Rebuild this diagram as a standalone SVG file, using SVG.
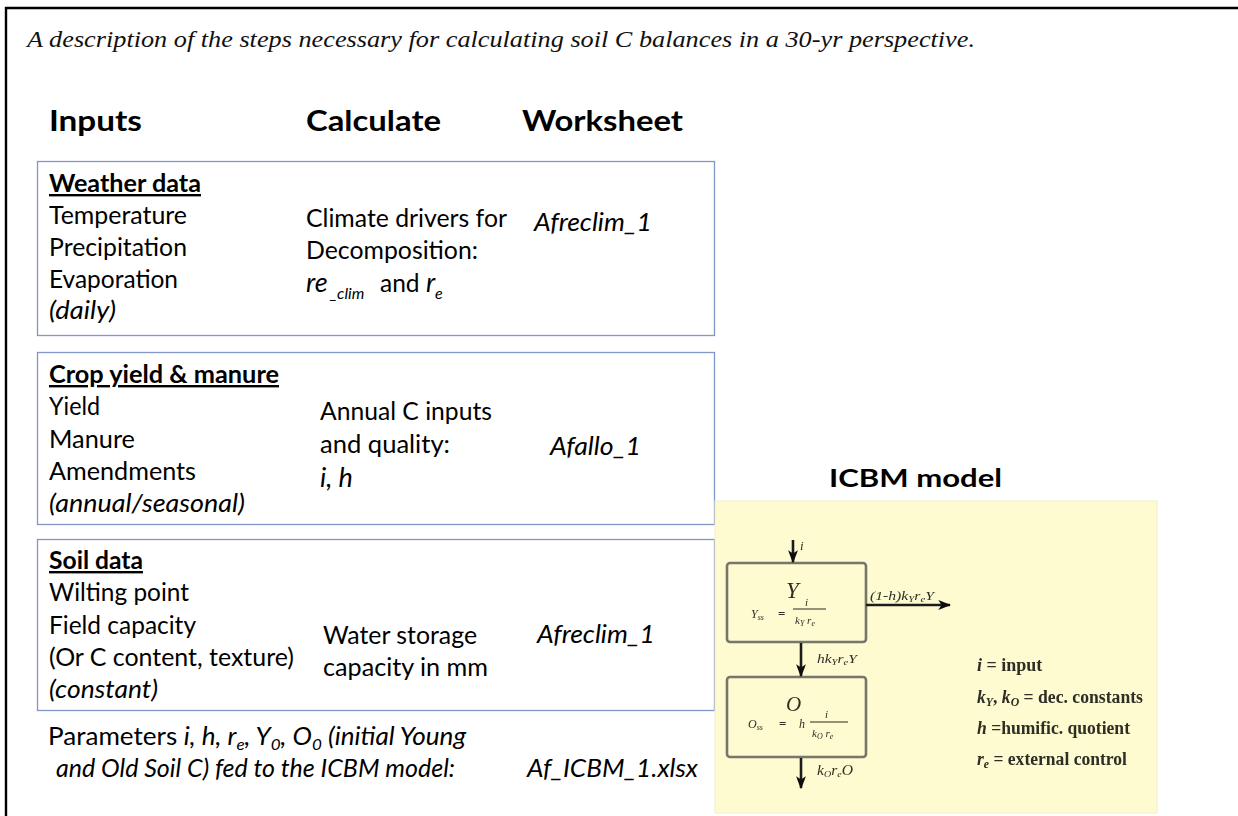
<svg xmlns="http://www.w3.org/2000/svg" width="1238" height="816" viewBox="0 0 1238 816">
  <style>
    .title { font-family: "Liberation Serif", serif; font-style: italic; font-size: 23px; fill: #111; }
    .head { font-family: Lato, "Liberation Sans", sans-serif; font-weight: bold; font-size: 29px; fill: #000; }
    .sec { font-family: Lato, "Liberation Sans", sans-serif; font-weight: bold; font-size: 24px; fill: #000; text-decoration: underline; }
    .txt { font-family: Lato, "Liberation Sans", sans-serif; font-size: 24.5px; fill: #000; }
    .it { font-style: italic; }
    .sub { font-size: 16px; }
    .box { fill: #fff; stroke: #8296c8; stroke-width: 1.3; }
    .icbm-title { font-family: Lato, "Liberation Sans", sans-serif; font-weight: bold; font-size: 25px; fill: #000; }
    .m { font-family: "Liberation Serif", serif; fill: #2e2e26; }
    .lg { font-family: "Liberation Serif", serif; fill: #2e2e26; font-size: 18px; font-weight: bold; }
    .pool { fill: none; stroke: #76766a; stroke-width: 2.6; }
    .flow { stroke: #1a1a1a; stroke-width: 2.6; fill: none; }
  </style>
  <defs>
    <marker id="ah" viewBox="0 0 10 10" refX="9" refY="5" markerWidth="5" markerHeight="5" orient="auto" markerUnits="strokeWidth">
      <path d="M0,1.2 L10,5 L0,8.8 L2.5,5 Z" fill="#111"/>
    </marker>
    <filter id="soft" x="-5%" y="-5%" width="110%" height="110%">
      <feGaussianBlur stdDeviation="0.55"/>
    </filter>
  </defs>

  <rect width="1238" height="816" fill="#fff"/>
  <!-- outer frame -->
  <path d="M6,816 L6,8 L1238,8" fill="none" stroke="#000" stroke-width="2.4"/>

  <text class="title" x="27" y="47" textLength="948" lengthAdjust="spacingAndGlyphs">A description of the steps necessary for calculating soil C balances in a 30-yr perspective.</text>

  <!-- column headings -->
  <g id="headings">
    <text class="head" x="49" y="131" textLength="93" lengthAdjust="spacingAndGlyphs">Inputs</text>
    <text class="head" x="306" y="131" textLength="135" lengthAdjust="spacingAndGlyphs">Calculate</text>
    <text class="head" x="522" y="131" textLength="161" lengthAdjust="spacingAndGlyphs">Worksheet</text>
  </g>

  <!-- weather data -->
  <g id="weather">
    <rect class="box" x="37.5" y="161.5" width="677" height="174"/>
    <text class="sec" x="49" y="192" textLength="152" lengthAdjust="spacingAndGlyphs">Weather data</text>
    <text class="txt" x="49" y="224" textLength="138" lengthAdjust="spacingAndGlyphs">Temperature</text>
    <text class="txt" x="49" y="256" textLength="138" lengthAdjust="spacingAndGlyphs">Precipitation</text>
    <text class="txt" x="49" y="288" textLength="129" lengthAdjust="spacingAndGlyphs">Evaporation</text>
    <text class="txt it" x="49" y="319" textLength="67" lengthAdjust="spacingAndGlyphs">(daily)</text>
    <text class="txt" x="306" y="227" textLength="201" lengthAdjust="spacingAndGlyphs">Climate drivers for</text>
    <text class="txt" x="306" y="259" textLength="172" lengthAdjust="spacingAndGlyphs">Decomposition:</text>
    <text class="txt it" x="306" y="292" style="font-size:27px">re</text>
    <text class="txt it sub" x="330" y="299">_clim</text>
    <text class="txt" x="380" y="292">and</text>
    <text class="txt it" x="426" y="292" style="font-size:27px">r</text>
    <text class="txt it sub" x="435" y="299">e</text>
    <text class="txt it" x="534" y="231" textLength="118" lengthAdjust="spacingAndGlyphs">Afreclim_1</text>
  </g>

  <!-- crop yield and manure -->
  <g id="crop">
    <rect class="box" x="37.5" y="352.5" width="677" height="172"/>
    <text class="sec" x="49" y="383" textLength="230" lengthAdjust="spacingAndGlyphs">Crop yield &amp; manure</text>
    <text class="txt" x="49" y="415" textLength="51" lengthAdjust="spacingAndGlyphs">Yield</text>
    <text class="txt" x="49" y="448" textLength="86" lengthAdjust="spacingAndGlyphs">Manure</text>
    <text class="txt" x="49" y="480" textLength="147" lengthAdjust="spacingAndGlyphs">Amendments</text>
    <text class="txt it" x="49" y="512" textLength="196" lengthAdjust="spacingAndGlyphs">(annual/seasonal)</text>
    <text class="txt" x="320" y="420" textLength="172" lengthAdjust="spacingAndGlyphs">Annual C inputs</text>
    <text class="txt" x="320" y="453" textLength="130" lengthAdjust="spacingAndGlyphs">and quality:</text>
    <text class="txt it" x="320" y="487" style="font-size:27px">i, h</text>
    <text class="txt it" x="550" y="455" textLength="91" lengthAdjust="spacingAndGlyphs">Afallo_1</text>
  </g>

  <!-- soil data -->
  <g id="soil">
    <rect class="box" x="37.5" y="539.5" width="677" height="171"/>
    <text class="sec" x="49" y="569" textLength="94" lengthAdjust="spacingAndGlyphs">Soil data</text>
    <text class="txt" x="49" y="601" textLength="140" lengthAdjust="spacingAndGlyphs">Wilting point</text>
    <text class="txt" x="49" y="634" textLength="147" lengthAdjust="spacingAndGlyphs">Field capacity</text>
    <text class="txt" x="49" y="666" textLength="245" lengthAdjust="spacingAndGlyphs">(Or C content, texture)</text>
    <text class="txt it" x="49" y="698" textLength="109" lengthAdjust="spacingAndGlyphs">(constant)</text>
    <text class="txt" x="323" y="644" textLength="154" lengthAdjust="spacingAndGlyphs">Water storage</text>
    <text class="txt" x="323" y="676" textLength="165" lengthAdjust="spacingAndGlyphs">capacity in mm</text>
    <text class="txt it" x="537" y="643" textLength="118" lengthAdjust="spacingAndGlyphs">Afreclim_1</text>
  </g>

  <!-- parameters passed on -->
  <g id="parameters">
    <text class="txt" x="48" y="745" textLength="418" lengthAdjust="spacingAndGlyphs">Parameters <tspan class="it">i, h, r</tspan><tspan class="it sub" dy="5">e</tspan><tspan class="it" dy="-5">, Y</tspan><tspan class="it sub" dy="5">0</tspan><tspan class="it" dy="-5">, O</tspan><tspan class="it sub" dy="5">0</tspan><tspan class="it" dy="-5"> (initial Young</tspan></text>
    <text class="txt it" x="56" y="777" textLength="399" lengthAdjust="spacingAndGlyphs">and Old Soil C) fed to the ICBM model:</text>
    <text class="txt it" x="527" y="777" textLength="171" lengthAdjust="spacingAndGlyphs">Af_ICBM_1.xlsx</text>
  </g>

  <!-- ICBM two-pool model -->
  <text class="icbm-title" x="829" y="487" textLength="173" lengthAdjust="spacingAndGlyphs">ICBM model</text>
  <rect x="715" y="501" width="442" height="312" fill="#fdfbcf" stroke="#f1efc6" stroke-width="1"/>

  <g filter="url(#soft)">
    <g id="pool-young">
      <rect class="pool" x="727" y="563" width="139" height="79" rx="3"/>
      <text class="m" x="786" y="598" font-size="23" font-style="italic">Y</text>
      <text class="m" x="751" y="618" font-size="12" font-style="italic">Y<tspan font-size="8" dy="2">ss</tspan></text>
      <text class="m" x="778" y="618" font-size="13" font-weight="bold">=</text>
      <text class="m" x="805" y="606" font-size="11" font-style="italic">i</text>
      <line x1="793" y1="609" x2="826" y2="609" stroke="#2e2e26" stroke-width="1.2"/>
      <text class="m" x="795" y="624" font-size="11" font-style="italic">k<tspan font-size="8" dy="2">Y</tspan><tspan dy="-2"> r</tspan><tspan font-size="8" dy="2">e</tspan></text>
    </g>
    <g id="pool-old">
      <rect class="pool" x="727" y="677" width="139" height="80" rx="3"/>
      <text class="m" x="786" y="711" font-size="21" font-style="italic">O</text>
      <text class="m" x="748" y="728" font-size="12" font-style="italic">O<tspan font-size="8" dy="2">ss</tspan></text>
      <text class="m" x="779" y="728" font-size="13" font-weight="bold">=</text>
      <text class="m" x="799" y="728" font-size="12" font-style="italic">h</text>
      <text class="m" x="825" y="718" font-size="11" font-style="italic">i</text>
      <line x1="810" y1="722" x2="848" y2="722" stroke="#2e2e26" stroke-width="1.2"/>
      <text class="m" x="812" y="737" font-size="11" font-style="italic">k<tspan font-size="8" dy="2">O</tspan><tspan dy="-2"> r</tspan><tspan font-size="8" dy="2">e</tspan></text>
    </g>
    <g id="flows">
      <line class="flow" x1="793" y1="540" x2="793" y2="562" marker-end="url(#ah)"/>
      <line class="flow" x1="866" y1="605" x2="950" y2="605" marker-end="url(#ah)"/>
      <line class="flow" x1="801" y1="643" x2="801" y2="676" marker-end="url(#ah)"/>
      <line class="flow" x1="801" y1="758" x2="801" y2="788" marker-end="url(#ah)"/>
      <text class="m" x="800" y="550" font-size="13" font-style="italic">i</text>
      <text class="m" x="870" y="600" font-size="13" font-style="italic" textLength="64" lengthAdjust="spacingAndGlyphs">(1-h)k<tspan font-size="9" dy="2">Y</tspan><tspan dy="-2">r</tspan><tspan font-size="9" dy="2">e</tspan><tspan dy="-2">Y</tspan></text>
      <text class="m" x="817" y="663" font-size="13" font-style="italic" textLength="40" lengthAdjust="spacingAndGlyphs">hk<tspan font-size="9" dy="2">Y</tspan><tspan dy="-2">r</tspan><tspan font-size="9" dy="2">e</tspan><tspan dy="-2">Y</tspan></text>
      <text class="m" x="817" y="775" font-size="14" font-style="italic" textLength="36" lengthAdjust="spacingAndGlyphs">k<tspan font-size="9" dy="2">O</tspan><tspan dy="-2">r</tspan><tspan font-size="9" dy="2">e</tspan><tspan dy="-2">O</tspan></text>
    </g>
    <g id="legend">
      <text class="lg" x="977" y="671"><tspan font-style="italic">i</tspan> = input</text>
      <text class="lg" x="977" y="703" textLength="166" lengthAdjust="spacingAndGlyphs"><tspan font-style="italic">k</tspan><tspan font-size="12" dy="3" font-style="italic">Y</tspan><tspan dy="-3">, </tspan><tspan font-style="italic">k</tspan><tspan font-size="12" dy="3" font-style="italic">O</tspan><tspan dy="-3"> = dec. constants</tspan></text>
      <text class="lg" x="977" y="734" textLength="153" lengthAdjust="spacingAndGlyphs"><tspan font-style="italic">h</tspan> =humific. quotient</text>
      <text class="lg" x="977" y="765" textLength="150" lengthAdjust="spacingAndGlyphs"><tspan font-style="italic">r</tspan><tspan font-size="12" dy="3" font-style="italic">e</tspan><tspan dy="-3"> = external control</tspan></text>
    </g>
  </g>
</svg>
